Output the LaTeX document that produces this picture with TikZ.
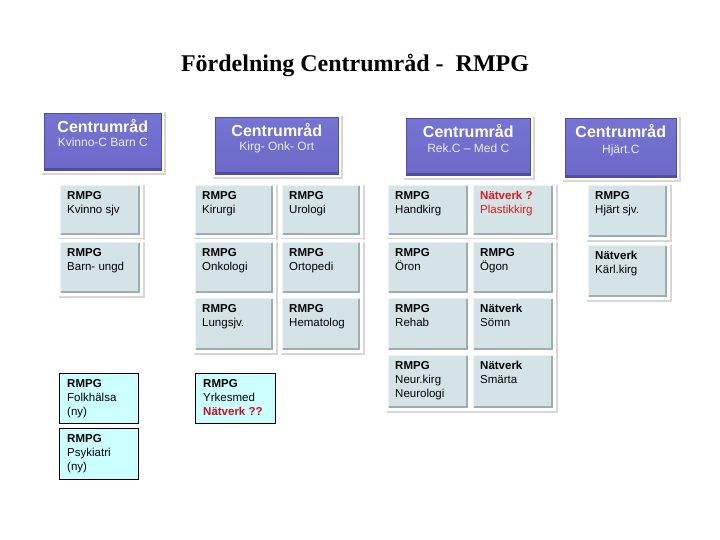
\documentclass[tikz,border=0pt]{standalone}
\usepackage{fontspec}
\setmainfont{Liberation Serif}
\newfontfamily\arial{Liberation Sans}
\usetikzlibrary{calc}
\definecolor{pur}{RGB}{108,105,200}
\definecolor{purtop}{RGB}{118,116,210}
\definecolor{purdark}{RGB}{80,76,160}
\definecolor{gfill}{RGB}{212,227,230}
\definecolor{gedge}{RGB}{158,173,176}
\definecolor{glight}{RGB}{236,244,245}
\definecolor{cfill}{RGB}{204,255,255}
\definecolor{redt}{RGB}{222,24,32}
\definecolor{redd}{RGB}{190,20,30}
\definecolor{subt}{RGB}{236,236,255}
\definecolor{shad}{RGB}{215,215,215}
\tikzset{
  pboxst/.style={rectangle, inner sep=0pt, top color=purtop, bottom color=pur, draw=purdark, line width=0.6pt},
  ptitle/.style={inner sep=0pt, text=white, font=\arial\bfseries\fontsize{16}{18}\selectfont},
  psub/.style={inner sep=0pt, text=subt, font=\arial\fontsize{12}{14}\selectfont},
  gboxst/.style={rectangle, inner sep=0pt, fill=gfill, draw=none},
  cboxst/.style={rectangle, inner sep=0pt, fill=cfill, draw=black, line width=0.8pt},
  btxt/.style={inner sep=0pt, anchor=base west, text=black, font=\arial\fontsize{11.5}{14.2}\selectfont},
}
% purple box: name, x1, y1, x2, y2, subtitle offset, subtitle
\newcommand{\pbox}[7]{%
  \fill[shad] (#2-2,#3-1) rectangle (#4+5,#5+5);
  \fill[white] (#2-3,#3-3) rectangle (#4+3,#5+3);
  \node[pboxst, anchor=north west, minimum width={(#4-#2)*1pt}, minimum height={(#5-#3)*1pt}] (#1) at (#2,#3) {};
  \draw[purdark, line width=2pt] ([xshift=1pt,yshift=1.3pt]#1.south west) -- ([xshift=-1pt,yshift=1.3pt]#1.south east);
  \node[ptitle, anchor=base] (#1a) at ($(#1.north)+(0,19.5)$) {Centrumråd};
  \node[psub, anchor=base] (#1b) at ($(#1.north)+(0,#6)$) {#7};
}
% grey box: name, x1, y1, x2, y2, text
\newcommand{\gbox}[6]{%
  \fill[shad] (#2-1,#3) rectangle (#4+5,#5+5);
  \fill[white] (#2-3,#3-3) rectangle (#4+3,#5+3);
  \node[gboxst, anchor=north west, minimum width={(#4-#2)*1pt}, minimum height={(#5-#3)*1pt}] (#1) at (#2,#3) {};
  \draw[glight, line width=1.4pt] ([xshift=0.7pt,yshift=1pt]#1.south west) -- ([xshift=0.7pt,yshift=-0.7pt]#1.north west) -- ([xshift=-1pt,yshift=-0.7pt]#1.north east);
  \draw[gedge, line width=2pt] ([xshift=1pt,yshift=1pt]#1.south west) -- ([xshift=-1pt,yshift=1pt]#1.south east) -- ([xshift=-1pt,yshift=-1pt]#1.north east);
  \node[btxt] (#1t) at ($(#1.north west)+(7,14.5)$) {\parbox[t]{80pt}{#6}};
}
% cyan box: name, x1, y1, x2, y2, text
\newcommand{\cbox}[6]{%
  \node[cboxst, anchor=north west, minimum width={(#4-#2)*1pt}, minimum height={(#5-#3)*1pt}] (#1) at (#2,#3) {};
  \node[btxt] (#1t) at ($(#1.north west)+(8,14)$) {\parbox[t]{80pt}{#6}};
}
\begin{document}
\begin{tikzpicture}[x=1pt,y=-1pt]
\fill[white] (0,0) rectangle (720,540);
\useasboundingbox (0,0) rectangle (720,540);

\node[inner sep=0pt, anchor=base, font=\bfseries\fontsize{24}{28}\selectfont] (title) at (355,72) {Fördelning Centrumråd -\ \ RMPG};

\pbox{p1}{44}{113}{161}{170}{33.5}{Kvinno-C Barn C}
\pbox{p2}{215}{117}{338}{174}{33.5}{Kirg- Onk- Ort}
\pbox{p3}{406}{118}{530}{175}{34.5}{Rek.C – Med C}
\pbox{p4}{565}{118}{676}{177}{35.5}{Hjärt.C}

\gbox{kvinno}{60}{185}{140}{235}{\textbf{RMPG}\\Kvinno sjv}
\gbox{barn}{60}{242}{140}{293}{\textbf{RMPG}\\Barn- ungd}

\gbox{kir}{195}{185}{273}{235}{\textbf{RMPG}\\Kirurgi}
\gbox{uro}{282}{185}{360}{235}{\textbf{RMPG}\\Urologi}
\gbox{onk}{195}{242}{273}{293}{\textbf{RMPG}\\Onkologi}
\gbox{ort}{282}{242}{360}{293}{\textbf{RMPG}\\Ortopedi}
\gbox{lung}{195}{298}{273}{350}{\textbf{RMPG}\\Lungsjv.}
\gbox{hem}{282}{298}{360}{350}{\textbf{RMPG}\\Hematolog}

\gbox{hand}{388}{185}{468}{235}{\textbf{RMPG}\\Handkirg}
\gbox{plast}{473}{185}{553}{235}{\textcolor{redt}{\textbf{Nätverk ?}}\\\textcolor{redt}{Plastikkirg}}
\gbox{oron}{388}{242}{468}{293}{\textbf{RMPG}\\Öron}
\gbox{ogon}{473}{242}{553}{293}{\textbf{RMPG}\\Ögon}
\gbox{rehab}{388}{298}{468}{350}{\textbf{RMPG}\\Rehab}
\gbox{somn}{473}{298}{553}{350}{\textbf{Nätverk}\\Sömn}
\gbox{neur}{388}{355}{468}{408}{\textbf{RMPG}\\Neur.kirg\\Neurologi}
\gbox{smarta}{473}{355}{553}{408}{\textbf{Nätverk}\\Smärta}

\gbox{hjart}{588}{185}{667}{237}{\textbf{RMPG}\\Hjärt sjv.}
\gbox{karl}{588}{245}{667}{297}{\textbf{Nätverk}\\Kärl.kirg}

\cbox{folk}{59}{373}{138}{423}{\textbf{RMPG}\\Folkhälsa\\(ny)}
\cbox{psyk}{59}{428}{138}{479}{\textbf{RMPG}\\Psykiatri\\(ny)}
\cbox{yrke}{195}{373}{275}{423}{\textbf{RMPG}\\Yrkesmed\\\textcolor{redd}{\textbf{Nätverk ??}}}
\end{tikzpicture}
\end{document}
